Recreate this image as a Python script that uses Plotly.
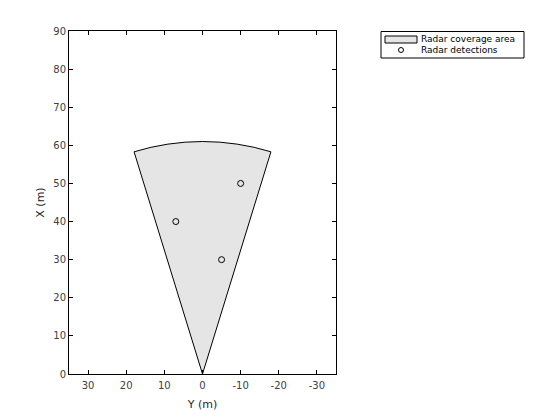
import numpy as np
import plotly.graph_objects as go

# Radar coverage parameters (m, degrees)
coverage_range = 61.0
coverage_fov_deg = 34.2
# Radar detections (X forward, Y lateral), metres
det_x = [40.0, 30.0, 50.0]
det_y = [7.0, -5.0, -10.0]
legend_labels = ["Radar coverage area", "Radar detections"]

# coverage polygon (sector) built from range/fov
ang = np.radians(np.linspace(-coverage_fov_deg / 2, coverage_fov_deg / 2, 9))
cov_x = np.concatenate([[0.0], coverage_range * np.cos(ang), [0.0]])
cov_y = np.concatenate([[0.0], coverage_range * np.sin(ang), [0.0]])

fig = go.Figure()
fig.add_trace(go.Scatter(
    x=cov_y, y=cov_x, mode="lines", fill="toself",
    fillcolor="#e5e5e5", line=dict(color="black", width=1),
    name=legend_labels[0], showlegend=False))
fig.add_trace(go.Scatter(
    x=det_y, y=det_x, mode="markers",
    marker=dict(symbol="circle-open", size=6, color="black", line=dict(width=1)),
    name=legend_labels[1], showlegend=False))

axcommon = dict(showgrid=False, zeroline=False, showline=True, linecolor="black",
                linewidth=1, mirror="ticks", ticks="inside", ticklen=4,
                tickcolor="black", tickfont=dict(size=10, color="#404040"),
                title_font=dict(size=11, color="#262626"))
fig.update_xaxes(range=[35, -35], tickvals=[30, 20, 10, 0, -10, -20, -30],
                 ticktext=["30", "20", "10", "0", "-10", "-20", "-30"],
                 title_text="Y (m)", title_standoff=10, ticklabelstandoff=2,
                 **axcommon)
fig.update_yaxes(range=[0, 90], dtick=10, title_text="X (m)", title_standoff=6,
                 **axcommon)

# Manual legend in the MATLAB style (pixel positions mapped to paper coords)
L, R, T, B = 69, 336, 31, 374
def px(x):
    return (x - L) / (R - L)
def py(y):
    return (B - y) / (B - T)

fig.add_shape(type="rect", xref="paper", yref="paper",
              x0=px(381), x1=px(524), y0=py(58), y1=py(31.5),
              line=dict(color="black", width=1), fillcolor="white")
fig.add_shape(type="rect", xref="paper", yref="paper",
              x0=px(385), x1=px(417), y0=py(43), y1=py(36),
              line=dict(color="black", width=1), fillcolor="#e5e5e5")
fig.add_shape(type="circle", xref="paper", yref="paper",
              xsizemode="pixel", ysizemode="pixel",
              xanchor=px(401), yanchor=py(50), x0=-2.5, x1=2.5, y0=-2.5, y1=2.5,
              line=dict(color="black", width=1))
for lab, yc in zip(legend_labels, [39.5, 50]):
    fig.add_annotation(text=lab, xref="paper", yref="paper", x=px(419), y=py(yc),
                       xanchor="left", yanchor="middle", showarrow=False,
                       font=dict(size=9, color="black"))

fig.update_layout(
    width=560, height=420,
    margin=dict(l=61, r=232, t=23, b=54),
    plot_bgcolor="white", paper_bgcolor="white",
    font=dict(family="DejaVu Sans", size=10, color="#262626"),
    showlegend=False,
)
fig.write_html("out.html")
